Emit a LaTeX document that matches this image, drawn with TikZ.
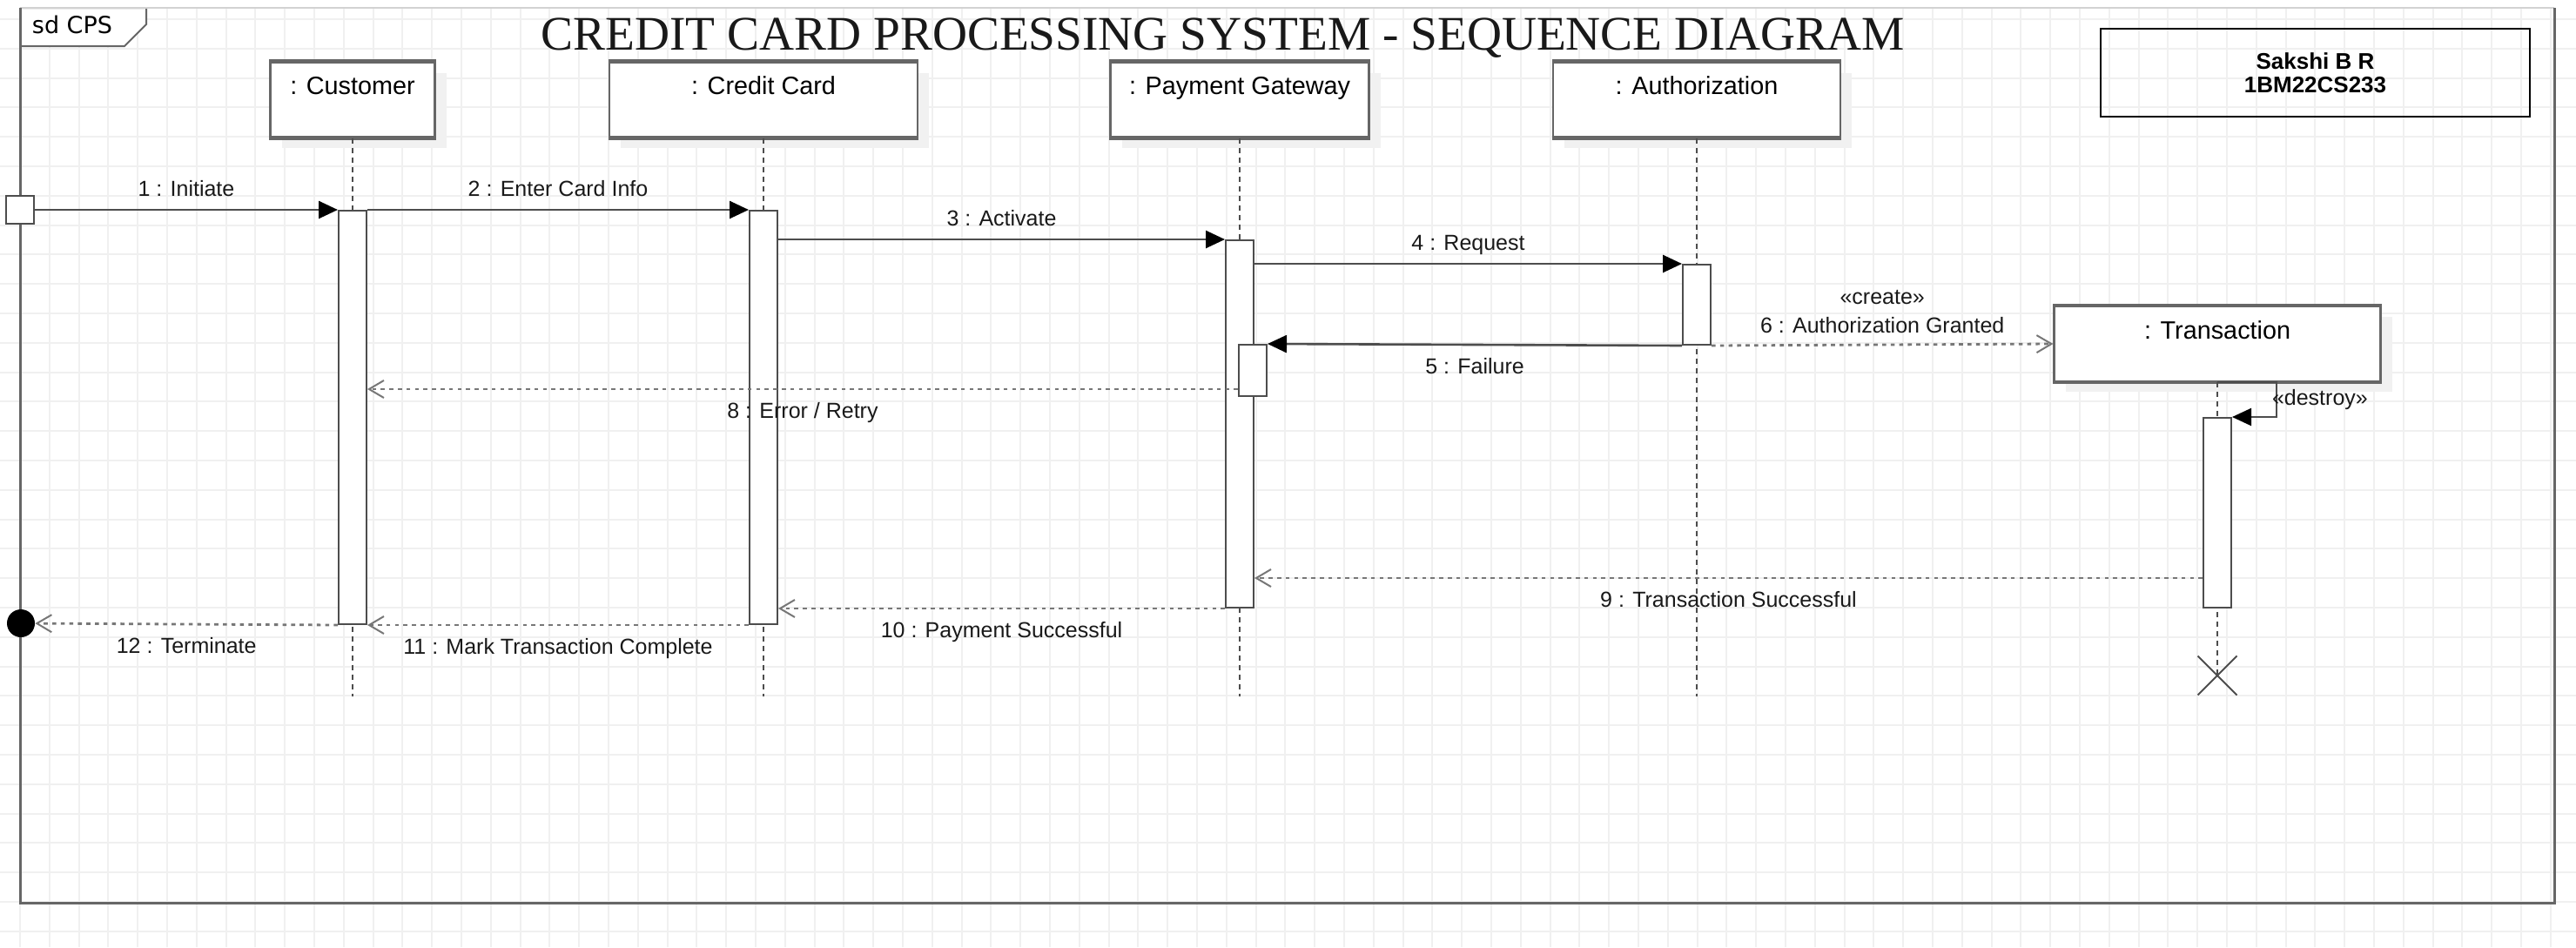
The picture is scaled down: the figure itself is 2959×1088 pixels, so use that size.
\documentclass[tikz,border=0pt]{standalone}
\usepackage{fontspec}
\setmainfont{Liberation Sans}
\newfontfamily\titlefont{Liberation Serif}
\newfontfamily\tabfont{DejaVu Sans}
\usetikzlibrary{arrows.meta,positioning,shadows,shapes.misc}

\definecolor{framegray}{HTML}{666666}
\definecolor{linegray}{HTML}{4D4D4D}
\definecolor{dotgray}{HTML}{777777}
\definecolor{gridgray}{HTML}{F0F0F0}
\definecolor{shadegray}{HTML}{F1F1F1}

\tikzset{
  gridline/.style={gridgray, line width=1pt},
  framed/.style={framegray, line width=1.5pt},
  head/.style={draw=framegray, line width=1.1pt, fill=white, inner sep=0pt,
    minimum width=#1, minimum height=43pt, text height=18.6pt, text depth=24.4pt,
    font=\fontsize{14.4}{16}\selectfont,
    drop shadow={shadow xshift=6.5pt, shadow yshift=-6pt, fill=shadegray, opacity=1}},
  headedge/.style={framegray, line width=2pt},
  lifeline/.style={linegray, line width=0.8pt, dash pattern=on 3pt off 2.5pt},
  bar/.style={draw=linegray, line width=1pt, fill=white, inner sep=0pt, minimum width=16pt, anchor=north},
  call/.style={linegray, line width=1.3pt, -{Triangle[length=11pt,width=10pt,color=black]}},
  reply/.style={dotgray, line width=1.4pt, dash pattern=on 2.3pt off 2.6pt,
    -{Straight Barb[length=8.5pt,width=10pt,line width=1pt]}},
  lbl/.style={font=\fontsize{12.5}{15}\selectfont, inner sep=0pt, text height=9pt, text depth=2.5pt, text=black!90},
}

\begin{document}
\begin{tikzpicture}[x=0.5pt,y=-0.5pt]
  \useasboundingbox (0,0) rectangle (2959,1088);
  % background grid
  \foreach \gx in {23,56.8,...,2959} \draw[gridline] (\gx,9) -- (\gx,1088);
  \foreach \gy in {22,55.8,...,1088} \draw[gridline] (0,\gy) -- (2959,\gy);

  % frame with its tab
  \draw[framegray, line width=1pt, fill=white] (23,9) -- (168,9) -- (168,28) -- (143,53) -- (23,53);
  \node[font=\tabfont\fontsize{13.5}{16}\selectfont, inner sep=0pt] (tab) at (83,28) {sd CPS};
  \draw[gray!35, line width=1pt] (23,9) -- (2934,9);
  \draw[framed] (23,9) -- (23,1037) -- (2934,1037) -- (2934,9);

  \node[font=\titlefont\fontsize{27.7}{30}\selectfont, inner sep=0pt, text height=18.3pt, text depth=0pt, text=black!90]
    (title) at (1405,39) {CREDIT CARD PROCESSING SYSTEM - SEQUENCE DIAGRAM};
  \node[draw=black, line width=1pt, minimum width=246.5pt, minimum height=50.5pt, align=center,
    font=\bfseries\fontsize{13}{13.5}\selectfont] (author) at (2659.5,83.5) {Sakshi B R\\1BM22CS233};

  % lifeline heads
  \node[head=94.5pt] (cu) at (405,114.5) {: Customer};
  \node[head=177pt] (cc) at (877,114.5) {: Credit Card};
  \node[head=148.5pt] (pg) at (1424,114.5) {: Payment Gateway};
  \node[head=165pt] (au) at (1949,114.5) {: Authorization};
  \node[head=187.5pt] (tr) at (2547,395) {: Transaction};
  \foreach \h in {cu,cc,pg,au,tr}
    \draw[headedge] (\h.north west) -- (\h.north east) (\h.south west) -- (\h.south east);

  % lifelines
  \foreach \h in {cu,cc,pg,au}
    \draw[lifeline] (\h.south) -- (\h.south |- 0,800);
  \node[draw=linegray, cross out, line width=1pt, minimum size=21.5pt, inner sep=0pt] (trX) at (2547,776) {};
  \draw[lifeline] (tr.south) -- (trX.center);

  % activation bars
  \node[bar, minimum height=237.5pt] (barCu) at (405,241) {};
  \node[bar, minimum height=237.5pt] (barCC) at (877,241) {};
  \node[bar, minimum height=211pt] (barPG) at (1424,275) {};
  \node[bar, minimum height=29.5pt] (barPGn) at (1439,395) {};
  \node[bar, minimum height=46pt] (barAu) at (1949,303) {};
  \node[bar, minimum height=109pt] (barTr) at (2547,479) {};

  % found and lost ends
  \node[draw=linegray, line width=1pt, fill=white, minimum size=16pt, inner sep=0pt] (found) at (23,241) {};
  \node[circle, fill=black, minimum size=16pt, inner sep=0pt] (lost) at (24,716) {};

  % messages
  \draw[call] (found) -- node[lbl, above=4.5pt]{1 : Initiate} (barCu.north west);
  \draw[call] (barCu.north east) -- node[lbl, above=4.5pt]{2 : Enter Card Info} (barCC.north west);
  \draw[call] (barCC.east |- barPG.north) -- node[lbl, above=4.5pt]{3 : Activate} (barPG.north west);
  \draw[call] (barPG.east |- barAu.north) -- node[lbl, above=4.5pt]{4 : Request} (barAu.north west);
  \draw[call] (barAu.south west) -- node[lbl, below=7pt]{5 : Failure} (barPGn.north east);
  \draw[reply] (barAu.south east) -- node[lbl, above=3.5pt]{6 : Authorization Granted}
    node[lbl, above=20pt]{«create»} (tr.west);
  \draw[call, line width=1pt] (tr.south) -- ++(68,0) |- node[pos=0.25, lbl, right=-3pt]{«destroy»} (barTr.north east);
  \draw[reply] (barPGn.west |- 0,447) -- node[lbl, below=7pt]{8 : Error / Retry} (barCu.east |- 0,447);
  \draw[reply] (barTr.west |- 0,664) -- node[lbl, below=7pt]{9 : Transaction Successful} (barPG.east |- 0,664);
  \draw[reply] (barPG.south west) -- node[lbl, below=7pt]{10 : Payment Successful} (barCC.east |- barPG.south);
  \draw[reply] (barCC.south west) -- node[lbl, below=7pt]{11 : Mark Transaction Complete} (barCu.south east);
  \draw[reply] (barCu.south west) -- node[lbl, below=7pt]{12 : Terminate} (lost);
\end{tikzpicture}
\end{document}
